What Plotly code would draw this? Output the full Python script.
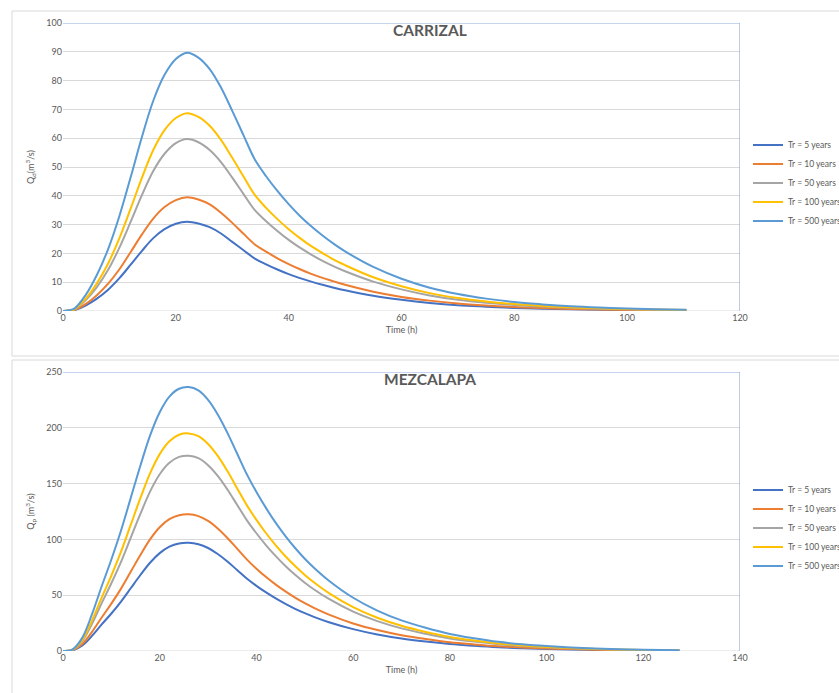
import plotly.graph_objects as go

# ---------------- data ----------------
series_names = ["Tr = 5 years", "Tr = 10 years", "Tr = 50 years", "Tr = 100 years", "Tr = 500 years"]
colors = ["#4472C4", "#ED7D31", "#A5A5A5", "#FFC000", "#5B9BD5"]

# CARRIZAL
t_carrizal = [0, 1, 2, 4, 6, 8, 10, 12, 14, 16, 18, 20, 22, 24, 26, 28, 30, 32, 34, 36, 38, 40,
              42, 44, 46, 48, 50, 55, 60, 65, 70, 75, 80, 85, 90, 95, 100, 105, 110.5]
carrizal_5 = [0, 0.1, 0.28, 1.9, 4.3, 7.4, 11.4, 16.1, 20.9, 25.3, 28.4, 30.3, 31.0, 30.4, 29.1, 26.9, 24.0, 21.1, 18.2, 16.2,
              14.4, 12.8, 11.4, 10.2, 9.1, 8.1, 7.2, 5.3, 3.9, 2.8, 2.0, 1.5, 1.07, 0.8, 0.57, 0.42, 0.3, 0.22, 0.16]
carrizal_10 = [0, 0.1, 0.35, 2.4, 5.5, 9.5, 14.5, 20.5, 26.6, 32.1, 36.1, 38.5, 39.5, 38.7, 37.0, 34.1, 30.6, 26.8, 23.1, 20.6,
               18.3, 16.3, 14.5, 12.9, 11.5, 10.3, 9.1, 6.7, 4.9, 3.6, 2.6, 1.9, 1.36, 1.0, 0.73, 0.53, 0.39, 0.28, 0.2]
carrizal_50 = [0, 0.2, 0.5, 3.7, 8.3, 14.3, 22.0, 31.0, 40.3, 48.6, 54.6, 58.3, 59.7, 58.6, 55.9, 51.7, 46.3, 40.6, 35.0, 31.2,
               27.8, 24.7, 22.0, 19.6, 17.4, 15.5, 13.8, 10.2, 7.5, 5.4, 3.9, 2.9, 2.1, 1.53, 1.1, 0.8, 0.59, 0.43, 0.3]
carrizal_100 = [0, 0.2, 0.6, 4.2, 9.6, 16.5, 25.3, 35.6, 46.3, 55.9, 62.8, 67.0, 68.7, 67.4, 64.3, 59.4, 53.2, 46.7, 40.3, 35.8,
                31.9, 28.4, 25.3, 22.5, 20.1, 17.8, 15.9, 11.7, 8.6, 6.2, 4.5, 3.3, 2.4, 1.76, 1.26, 0.92, 0.67, 0.49, 0.34]
carrizal_500 = [0, 0.3, 0.8, 5.5, 12.5, 21.5, 33.0, 46.5, 60.5, 73.0, 82.0, 87.5, 89.7, 88.0, 84.0, 77.6, 69.5, 61.0, 52.6, 46.8,
                41.7, 37.1, 33.0, 29.4, 26.2, 23.3, 20.7, 15.3, 11.2, 8.1, 5.9, 4.3, 3.1, 2.3, 1.65, 1.2, 0.88, 0.64, 0.45]

# MEZCALAPA
t_mezcalapa = [0, 2, 4, 6, 8, 10, 12, 14, 16, 18, 20, 22, 24, 26, 28, 30, 32, 34, 36, 38, 40, 42, 44, 46, 48,
               50, 52, 55, 60, 65, 70, 75, 80, 85, 90, 95, 100, 105, 110, 115, 120, 127.5]
mezcalapa_5 = [0, 0.6, 4.9, 13.5, 23.8, 33.6, 44.3, 56.2, 68.1, 79.1, 87.7, 93.5, 96.4, 97.0, 95.7, 92.3, 86.9, 80.2, 72.6, 65.0,
               58.4, 52.5, 47.1, 42.2, 37.8, 33.9, 30.4, 25.8, 19.6, 14.8, 11.2, 8.5, 6.3, 4.7, 3.4, 2.5, 1.8, 1.3, 0.9, 0.7, 0.5, 0.25]
mezcalapa_10 = [0, 0.8, 6.2, 17.1, 30.0, 42.5, 55.9, 71.0, 86.0, 100.0, 110.9, 118.1, 121.7, 122.5, 120.9, 116.6, 109.8, 101.3, 91.7, 82.1,
                73.8, 66.3, 59.5, 53.4, 47.8, 42.8, 38.4, 32.6, 24.7, 18.8, 14.2, 10.8, 7.9, 5.9, 4.2, 3.1, 2.3, 1.7, 1.2, 0.8, 0.6, 0.3]
mezcalapa_50 = [0, 1.1, 8.9, 24.4, 42.9, 60.7, 79.9, 101.4, 122.8, 142.8, 158.4, 168.7, 173.9, 175.0, 172.8, 166.5, 156.9, 144.7, 131.0, 117.3,
                105.5, 94.7, 85.0, 76.2, 68.3, 61.2, 54.9, 46.6, 35.3, 26.8, 20.3, 15.4, 11.3, 8.4, 6.1, 4.4, 3.3, 2.4, 1.7, 1.2, 0.8, 0.4]
mezcalapa_100 = [0, 1.2, 9.9, 27.2, 47.8, 67.6, 89.0, 113.0, 136.9, 159.1, 176.4, 188.0, 193.8, 195.0, 192.5, 185.5, 174.8, 161.2, 145.9, 130.7,
                 117.5, 105.5, 94.7, 84.9, 76.1, 68.2, 61.2, 51.9, 39.3, 29.8, 22.6, 17.1, 12.6, 9.4, 6.8, 4.9, 3.6, 2.6, 1.9, 1.3, 0.9, 0.5]
mezcalapa_500 = [0, 1.5, 12.0, 33.0, 58.0, 82.0, 108.0, 137.0, 166.0, 193.0, 214.0, 228.0, 235.0, 236.5, 233.5, 225.0, 212.0, 195.5, 177.0, 158.5,
                 142.5, 128.0, 114.8, 103.0, 92.3, 82.7, 74.2, 63.0, 47.7, 36.2, 27.4, 20.8, 15.3, 11.4, 8.2, 6.0, 4.4, 3.2, 2.3, 1.6, 1.1, 0.6]

carrizal = [carrizal_5, carrizal_10, carrizal_50, carrizal_100, carrizal_500]
mezcalapa = [mezcalapa_5, mezcalapa_10, mezcalapa_50, mezcalapa_100, mezcalapa_500]

# ---------------- figure ----------------
W, H = 839, 693
FONT = "Lato, Open Sans, sans-serif"
TXT = "#595959"


def px_x(p):
    return p / W


def px_y(p):
    return 1 - p / H


fig = go.Figure()
for name, col, ys in zip(series_names, colors, carrizal):
    fig.add_trace(go.Scatter(x=t_carrizal, y=ys, name=name, mode="lines",
                             line=dict(color=col, width=2, shape="spline", smoothing=1.0),
                             xaxis="x", yaxis="y", legend="legend"))
for name, col, ys in zip(series_names, colors, mezcalapa):
    fig.add_trace(go.Scatter(x=t_mezcalapa, y=ys, name=name, mode="lines",
                             line=dict(color=col, width=2, shape="spline", smoothing=1.0),
                             xaxis="x2", yaxis="y2", legend="legend2"))

xaxis_common = dict(showgrid=False, zeroline=False, showline=False, ticks="", automargin=False,
                    tickfont=dict(family=FONT, size=9, color=TXT), fixedrange=True)
yaxis_common = dict(showgrid=True, gridcolor="#D9D9D9", gridwidth=1, zeroline=False, automargin=False,
                    showline=False, ticks="", tickfont=dict(family=FONT, size=9, color=TXT),
                    fixedrange=True)
title_font = dict(family=FONT, size=9, color=TXT)
legend_common = dict(xanchor="left", yanchor="middle", font=dict(family=FONT, size=8.5, color=TXT),
                     bgcolor="rgba(0,0,0,0)", itemwidth=30, tracegroupgap=0)

fig.update_layout(
    width=W, height=H,
    margin=dict(l=0, r=0, t=0, b=0, autoexpand=False),
    paper_bgcolor="white", plot_bgcolor="white",
    font=dict(family=FONT, color=TXT),
    xaxis=dict(domain=[px_x(63), px_x(740)], range=[0, 120], dtick=20, anchor="y",
               title=dict(text="Time (h)", font=title_font, standoff=4), **xaxis_common),
    yaxis=dict(domain=[px_y(311), px_y(23)], range=[0, 100], dtick=10, anchor="x",
               title=dict(text="Q<sub>d</sub>(m<sup>3</sup>/s)", font=title_font, standoff=10), **yaxis_common),
    xaxis2=dict(domain=[px_x(63), px_x(740)], range=[0, 140], dtick=20, anchor="y2",
                title=dict(text="Time (h)", font=title_font, standoff=4), **xaxis_common),
    yaxis2=dict(domain=[px_y(651), px_y(372)], range=[0, 250], dtick=50, anchor="x2",
                title=dict(text="Q<sub>p</sub> (m<sup>3</sup>/s)", font=title_font, standoff=10), **yaxis_common),
    legend=dict(x=px_x(748), y=px_y(183), **legend_common),
    legend2=dict(x=px_x(748), y=px_y(528), **legend_common),
    showlegend=True,
)

# chart containers (light gray boxes)
fig.add_shape(type="rect", xref="paper", yref="paper", x0=px_x(12), x1=px_x(850), y0=px_y(356), y1=px_y(11),
              line=dict(color="#D9D9D9", width=1), fillcolor="rgba(0,0,0,0)", layer="below")
fig.add_shape(type="rect", xref="paper", yref="paper", x0=px_x(12), x1=px_x(850), y0=px_y(700), y1=px_y(360),
              line=dict(color="#D9D9D9", width=1), fillcolor="rgba(0,0,0,0)", layer="below")

# top and right borders of the plot areas (blue), baseline gray
for xa, ya, xmax, ymax in [("x", "y", 120, 100), ("x2", "y2", 140, 250)]:
    fig.add_shape(type="line", xref=xa, yref=ya, x0=0, x1=xmax, y0=ymax, y1=ymax,
                  line=dict(color="#8EA9DB", width=1.2))
    fig.add_shape(type="line", xref=xa, yref=ya, x0=xmax, x1=xmax, y0=0, y1=ymax,
                  line=dict(color="#8EA9DB", width=1.2))
    fig.add_shape(type="line", xref=xa, yref=ya, x0=0, x1=xmax, y0=0, y1=0,
                  line=dict(color="#D9D9D9", width=1), layer="below")

# titles
fig.add_annotation(text="<b>CARRIZAL</b>", xref="paper", yref="paper", x=px_x(430), y=px_y(30),
                   showarrow=False, font=dict(family=FONT, size=15.5, color=TXT), xanchor="center", yanchor="middle")
fig.add_annotation(text="<b>MEZCALAPA</b>", xref="paper", yref="paper", x=px_x(430), y=px_y(379),
                   showarrow=False, font=dict(family=FONT, size=15.5, color=TXT), xanchor="center", yanchor="middle")

fig.write_html("out.html", config={"displayModeBar": False},
               post_script="document.body.style.margin='0';document.body.style.overflow='hidden';")
